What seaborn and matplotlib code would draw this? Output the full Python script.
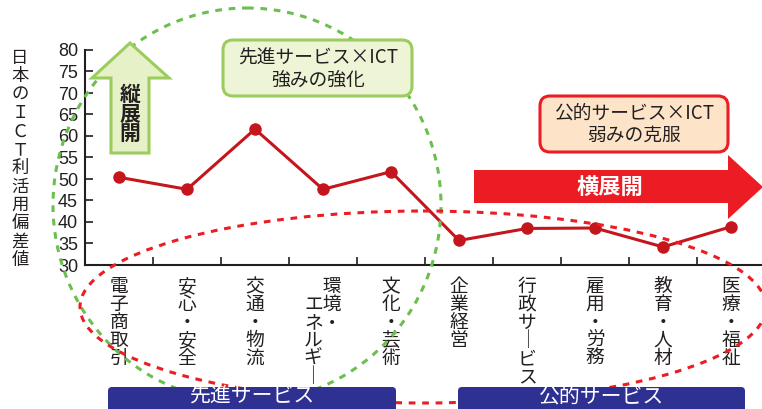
import matplotlib
matplotlib.use("Agg")
import matplotlib.pyplot as plt
from matplotlib.patches import Ellipse, FancyBboxPatch, Polygon
import seaborn as sns
import pandas as pd

# ICT utilisation deviation score by service field
categories = ["電子商取引", "安心・安全", "交通・物流", "環境・エネルギー", "文化・芸術",
              "企業経営", "行政サービス", "雇用・労務", "教育・人材", "医療・福祉"]
scores = [50.4, 47.6, 61.6, 47.6, 51.7, 35.7, 38.5, 38.6, 34.2, 38.9]

# vertical (stacked) forms of the category names
tick_labels = [
    "電\n子\n商\n取\n引",
    "安\n心\n・\n安\n全",
    "交\n通\n・\n物\n流",
    "　環\nエ境\nネ・\nル　\nギ　\n｜　",
    "文\n化\n・\n芸\n術",
    "企\n業\n経\n営",
    "行\n政\nサ\n｜\nビ\nス",
    "雇\n用\n・\n労\n務",
    "教\n育\n・\n人\n材",
    "医\n療\n・\n福\n祉",
]
y_ticks = [30, 35, 40, 45, 50, 55, 60, 65, 70, 75, 80]
y_label = "日本のＩＣＴ利活用偏差値"
group_labels = ["先進サービス", "公的サービス"]

sns.set_theme(style="white")
JP = ["Noto Sans CJK JP", "DejaVu Sans"]
plt.rcParams["font.family"] = JP
TXT = "#231f20"
LINE = "#c4161c"

W, H = 762, 409
fig = plt.figure(figsize=(W / 100, H / 100), dpi=100)
ax = fig.add_axes([85 / W, 1 - 265 / H, 680 / W, 215 / H])

df = pd.DataFrame({"x": range(len(categories)), "score": scores})
sns.lineplot(data=df, x="x", y="score", ax=ax, color=LINE, linewidth=2.2,
             marker="o", markersize=9, markeredgewidth=0, zorder=3)

ax.set_xlim(-0.5, len(categories) - 0.5)
ax.set_ylim(y_ticks[0], y_ticks[-1])
ax.set_yticks(y_ticks)
ax.set_yticklabels([str(v) for v in y_ticks], family="Liberation Sans", fontsize=13, color=TXT)
ax.tick_params(axis="y", direction="in", length=6, width=1.2, color=TXT, pad=5, left=True)

ax.set_xticks(range(len(categories)))
ax.set_xticklabels(tick_labels, fontsize=13.5, color=TXT, va="top", ha="center")
for lab in ax.get_xticklabels():
    lab.set_linespacing(0.81)
ax.tick_params(axis="x", which="major", length=0, pad=8)
ax.set_xticks([i + 0.5 for i in range(len(categories) - 1)], minor=True)
ax.tick_params(axis="x", which="minor", direction="in", length=6, width=1.2, color=TXT, bottom=True)

for s in ["top", "right"]:
    ax.spines[s].set_visible(False)
for s in ["left", "bottom"]:
    ax.spines[s].set_color(TXT)
    ax.spines[s].set_linewidth(1.5)
ax.set_xlabel("")
ax.set_ylabel("")

fig.text(20 / W, 1 - 159 / H, "\n".join(y_label), ha="center", va="center",
         fontsize=12.5, color=TXT, linespacing=1.03)

# overlay in pixel units for the callouts
ov = fig.add_axes([0, 0, 1, 1], zorder=5)
ov.set_xlim(0, W)
ov.set_ylim(H, 0)
ov.axis("off")
ov.patch.set_alpha(0)

GREEN = "#6cbf4e"
RED = "#ec1c24"
NAVY = "#2e3192"

ov.add_patch(Ellipse((247, 205), 388, 394, fill=False, ec=GREEN, lw=2.2,
                     ls=(0, (2.2, 2.2))))
ov.add_patch(Ellipse((423, 307), 686, 192, fill=False, ec=RED, lw=2.2,
                     ls=(0, (2.2, 2.2))))

# vertical expansion arrow
ov.add_patch(Polygon([(130, 43), (169, 78), (149, 78), (149, 153), (111, 153),
                      (111, 78), (92, 78)], closed=True, fc="#e7f1c8", ec="#9ccb5e", lw=2.2))
ov.text(130, 114, "縦\n展\n開", ha="center", va="center", fontsize=15,
        fontweight="bold", color=TXT, linespacing=0.92)

# horizontal expansion arrow
ov.add_patch(Polygon([(474, 170), (728, 170), (728, 155), (763, 187), (728, 219),
                      (728, 203), (474, 203)], closed=True, fc="#ec1c24", ec="none"))
ov.text(610, 187, "横展開", ha="center", va="center", fontsize=16,
        fontweight="bold", color="white")

# callout boxes
ov.add_patch(FancyBboxPatch((223, 40), 189, 56, boxstyle="round,pad=0,rounding_size=10",
                            fc="#eef5d7", ec="#9ccb5e", lw=2.2))
ov.text(318, 69, "先進サービス×ICT\n強みの強化", ha="center", va="center",
        fontsize=13.5, color=TXT, linespacing=1.05)
ov.add_patch(FancyBboxPatch((540, 96), 188, 56, boxstyle="round,pad=0,rounding_size=10",
                            fc="#fde4c9", ec=RED, lw=2.2))
ov.text(634, 124, "公的サービス×ICT\n弱みの克服", ha="center", va="center",
        fontsize=13.5, color=TXT, linespacing=1.05)

# group bars
for (x0, x1), lab in zip([(108, 396), (458, 745)], group_labels):
    ov.add_patch(FancyBboxPatch((x0, 387), x1 - x0, 30, boxstyle="round,pad=0,rounding_size=4",
                                fc=NAVY, ec="none"))
    ov.text((x0 + x1) / 2, 397, lab, ha="center", va="center", fontsize=15, color="white")

fig.savefig("out.png", dpi=100)
